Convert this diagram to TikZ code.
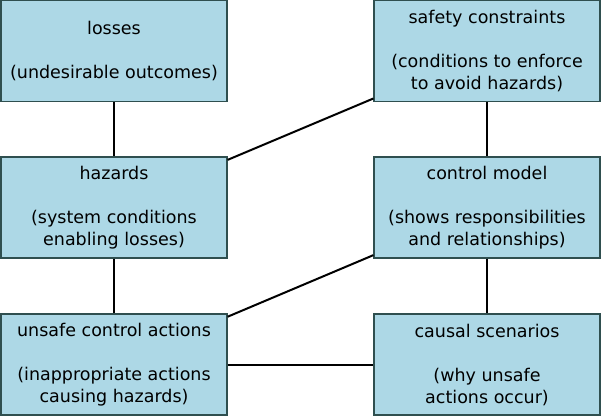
\documentclass[tikz,border=0pt]{standalone}
\usepackage{fontspec}
\setmainfont{DejaVu Sans}
\usetikzlibrary{positioning}

\definecolor{boxfill}{HTML}{ADD8E6}
\definecolor{boxline}{HTML}{2F4F4F}

\tikzset{
    box/.style={draw=boxline, fill=boxfill, line width=1.2pt, minimum width=226pt, minimum height=101pt,
        inner sep=0pt, align=center, font=\fontsize{17.5}{22}\selectfont},
    link/.style={line width=2pt, black}
}

\begin{document}
\begin{tikzpicture}[x=1pt, y=-1pt]
        \useasboundingbox (0,0) rectangle (601,416);

        \node[box] (losses) at (114,51) {losses\\[22pt](undesirable outcomes)};
        \node[box] (hazards) at (114,207.5) {hazards\\[22pt](system conditions\\enabling losses)};
        \node[box] (uca) at (114,364.5) {unsafe control actions\\[22pt](inappropriate actions\\causing hazards)};
        \node[box] (constraints) at (487,51) {safety constraints\\[22pt](conditions to enforce\\to avoid hazards)};
        \node[box] (model) at (487,207.5) {control model\\[22pt](shows responsibilities\\and relationships)};
        \node[box] (scenarios) at (487,364.5) {causal scenarios\\[22pt](why unsafe\\actions occur)};

        \foreach \a/\b in {losses/hazards, hazards/uca, constraints/model, model/scenarios,
                           hazards/constraints, uca/model, uca/scenarios}
            \draw[link] (\a) -- (\b);
\end{tikzpicture}
\end{document}
